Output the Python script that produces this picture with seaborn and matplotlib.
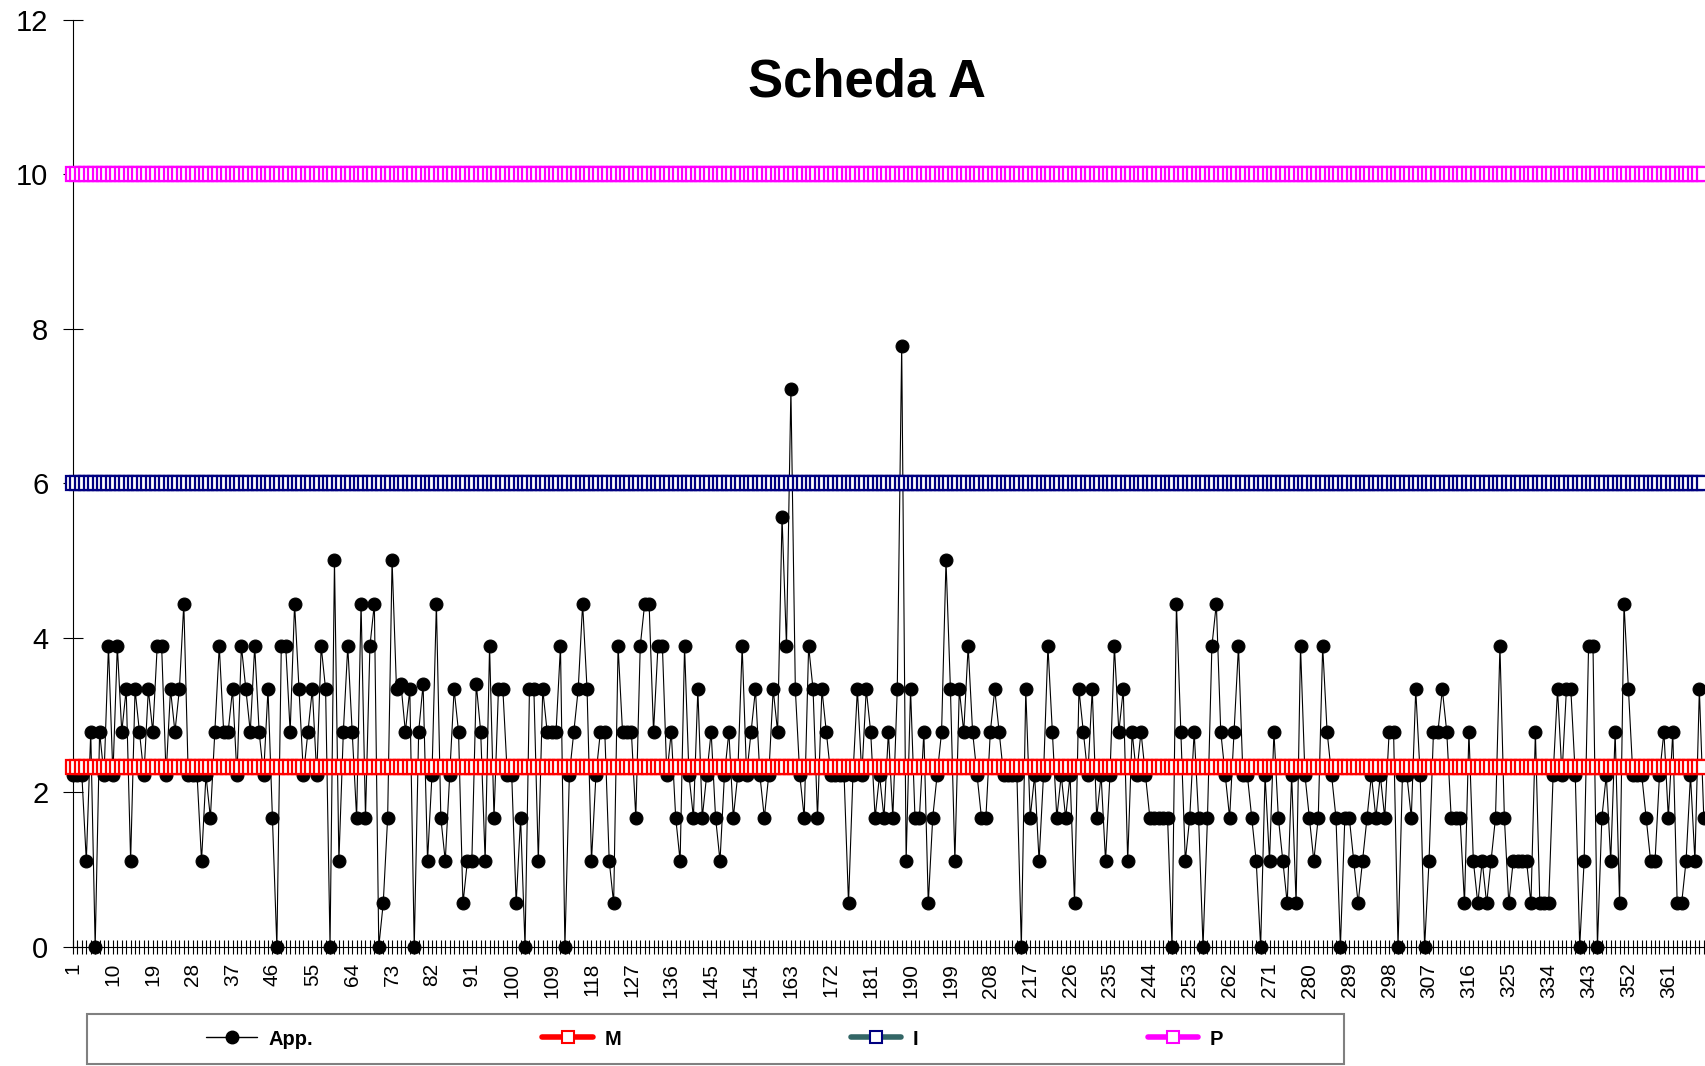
import matplotlib
matplotlib.use("Agg")
import matplotlib.pyplot as plt
from matplotlib.lines import Line2D
from matplotlib.patches import Rectangle
import pandas as pd
import seaborn as sns

# daily values (App.), one per day
app = [
    2.22, 2.22, 2.22, 1.11, 2.78, 0, 2.78, 2.22, 3.89, 2.22,
    3.89, 2.78, 3.33, 1.11, 3.33, 2.78, 2.22, 3.33, 2.78, 3.89,
    3.89, 2.22, 3.33, 2.78, 3.33, 4.44, 2.22, 2.22, 2.22, 1.11,
    2.22, 1.67, 2.78, 3.89, 2.78, 2.78, 3.33, 2.22, 3.89, 3.33,
    2.78, 3.89, 2.78, 2.22, 3.33, 1.67, 0, 3.89, 3.89, 2.78,
    4.44, 3.33, 2.22, 2.78, 3.33, 2.22, 3.89, 3.33, 0, 5.0,
    1.11, 2.78, 3.89, 2.78, 1.67, 4.44, 1.67, 3.89, 4.44, 0,
    0.56, 1.67, 5.0, 3.33, 3.4, 2.78, 3.33, 0, 2.78, 3.4,
    1.11, 2.22, 4.44, 1.67, 1.11, 2.22, 3.33, 2.78, 0.56, 1.11,
    1.11, 3.4, 2.78, 1.11, 3.89, 1.67, 3.33, 3.33, 2.22, 2.22,
    0.56, 1.67, 0, 3.33, 3.33, 1.11, 3.33, 2.78, 2.78, 2.78,
    3.89, 0, 2.22, 2.78, 3.33, 4.44, 3.33, 1.11, 2.22, 2.78,
    2.78, 1.11, 0.56, 3.89, 2.78, 2.78, 2.78, 1.67, 3.89, 4.44,
    4.44, 2.78, 3.89, 3.89, 2.22, 2.78, 1.67, 1.11, 3.89, 2.22,
    1.67, 3.33, 1.67, 2.22, 2.78, 1.67, 1.11, 2.22, 2.78, 1.67,
    2.22, 3.89, 2.22, 2.78, 3.33, 2.22, 1.67, 2.22, 3.33, 2.78,
    5.56, 3.89, 7.22, 3.33, 2.22, 1.67, 3.89, 3.33, 1.67, 3.33,
    2.78, 2.22, 2.22, 2.22, 2.22, 0.56, 2.22, 3.33, 2.22, 3.33,
    2.78, 1.67, 2.22, 1.67, 2.78, 1.67, 3.33, 7.78, 1.11, 3.33,
    1.67, 1.67, 2.78, 0.56, 1.67, 2.22, 2.78, 5.0, 3.33, 1.11,
    3.33, 2.78, 3.89, 2.78, 2.22, 1.67, 1.67, 2.78, 3.33, 2.78,
    2.22, 2.22, 2.22, 2.22, 0, 3.33, 1.67, 2.22, 1.11, 2.22,
    3.89, 2.78, 1.67, 2.22, 1.67, 2.22, 0.56, 3.33, 2.78, 2.22,
    3.33, 1.67, 2.22, 1.11, 2.22, 3.89, 2.78, 3.33, 1.11, 2.78,
    2.22, 2.78, 2.22, 1.67, 1.67, 1.67, 1.67, 1.67, 0, 4.44,
    2.78, 1.11, 1.67, 2.78, 1.67, 0, 1.67, 3.89, 4.44, 2.78,
    2.22, 1.67, 2.78, 3.89, 2.22, 2.22, 1.67, 1.11, 0, 2.22,
    1.11, 2.78, 1.67, 1.11, 0.56, 2.22, 0.56, 3.89, 2.22, 1.67,
    1.11, 1.67, 3.89, 2.78, 2.22, 1.67, 0, 1.67, 1.67, 1.11,
    0.56, 1.11, 1.67, 2.22, 1.67, 2.22, 1.67, 2.78, 2.78, 0,
    2.22, 2.22, 1.67, 3.33, 2.22, 0, 1.11, 2.78, 2.78, 3.33,
    2.78, 1.67, 1.67, 1.67, 0.56, 2.78, 1.11, 0.56, 1.11, 0.56,
    1.11, 1.67, 3.89, 1.67, 0.56, 1.11, 1.11, 1.11, 1.11, 0.56,
    2.78, 0.56, 0.56, 0.56, 2.22, 3.33, 2.22, 3.33, 3.33, 2.22,
    0, 1.11, 3.89, 3.89, 0, 1.67, 2.22, 1.11, 2.78, 0.56,
    4.44, 3.33, 2.22, 2.22, 2.22, 1.67, 1.11, 1.11, 2.22, 2.78,
    1.67, 2.78, 0.56, 0.56, 1.11, 2.22, 1.11, 3.33, 1.67,
]

# reference levels
m_level = 2.33
i_level = 6.0
p_level = 10.0

tick_days = [1, 10, 19, 28, 37, 46, 55, 64, 73, 82, 91, 100, 109, 118,
             127, 136, 145, 154, 163, 172, 181, 190, 199, 208, 217, 226,
             235, 244, 253, 262, 271, 280, 289, 298, 307, 316, 325, 334,
             343, 352, 361]
y_ticks = [0, 2, 4, 6, 8, 10, 12]
legend_labels = ["App.", "M", "I", "P"]
title = "Scheda A"

days = list(range(1, len(app) + 1))
df = pd.DataFrame({"giorno": days, "App.": app, "M": m_level,
                   "I": i_level, "P": p_level})

sns.set_style("white")
plt.rcParams["font.family"] = ["Liberation Sans", "DejaVu Sans"]
plt.rcParams["text.color"] = "black"

fig = plt.figure(figsize=(17.06, 10.66), dpi=100)
ax = fig.add_axes([0.0428, 0.1119, 0.9572, 0.8697])

# daily series
sns.lineplot(data=df, x="giorno", y="App.", ax=ax, color="black",
             linewidth=0.8, marker="o", markersize=9.3,
             markerfacecolor="black", markeredgecolor="black",
             markeredgewidth=0.75, clip_on=False, zorder=3)

# M / I / P bands: thick line with hollow squares on every day
bands = [("M", "#ff0000", "#ff0000"),
         ("I", "#336666", "#000080"),
         ("P", "#ff00ff", "#ff00ff")]
for col, line_col, edge_col in bands:
    sns.lineplot(data=df, x="giorno", y=col, ax=ax, color=line_col,
                 linewidth=3, marker="s", markersize=9.5,
                 markerfacecolor="white", markeredgecolor=edge_col,
                 markeredgewidth=1.6, clip_on=False, zorder=4)

ax.set_xlim(1, 369.5)
ax.set_ylim(0, 12)
ax.set_yticks(y_ticks)
ax.set_xticks(days)
ax.set_xticklabels([str(d) if d in tick_days else "" for d in days])
ax.set_xlabel("")
ax.set_ylabel("")
ax.tick_params(axis="x", bottom=True, direction="inout", length=9.4,
               width=0.8, labelsize=15, labelrotation=90, pad=6.8,
               colors="black")
ax.tick_params(axis="y", left=True, direction="inout", length=14.4,
               width=0.8, labelsize=21, pad=10.5, colors="black")
sns.despine(ax=ax)
for side in ["left", "bottom"]:
    ax.spines[side].set_color("black")
    ax.spines[side].set_linewidth(0.8)

fig.text(0.508, 0.923, title, fontsize=38, fontweight="bold",
         color="black", ha="center", va="center")

# legend box
fig.add_artist(Rectangle((0.051, 0.0019), 0.737, 0.047,
                         transform=fig.transFigure, facecolor="white",
                         edgecolor="#808080", linewidth=1.5))
handles = [
    Line2D([], [], color="black", linewidth=1, marker="o", markersize=9,
           markerfacecolor="black", markeredgecolor="black"),
    Line2D([], [], color="#ff0000", linewidth=4, marker="s", markersize=8,
           markerfacecolor="white", markeredgecolor="#ff0000",
           markeredgewidth=1.5),
    Line2D([], [], color="#336666", linewidth=4, marker="s", markersize=8,
           markerfacecolor="white", markeredgecolor="#000080",
           markeredgewidth=1.5),
    Line2D([], [], color="#ff00ff", linewidth=4, marker="s", markersize=8,
           markerfacecolor="white", markeredgecolor="#ff00ff",
           markeredgewidth=1.5),
]
fig.legend(handles, legend_labels, loc="center left",
           bbox_to_anchor=(0.121, 0.0253), ncol=4, frameon=False,
           borderpad=0, borderaxespad=0, handlelength=2.5,
           handletextpad=0.57, columnspacing=11.4,
           prop={"size": 14.5, "weight": "bold"})

fig.savefig("out.png", dpi=100)
